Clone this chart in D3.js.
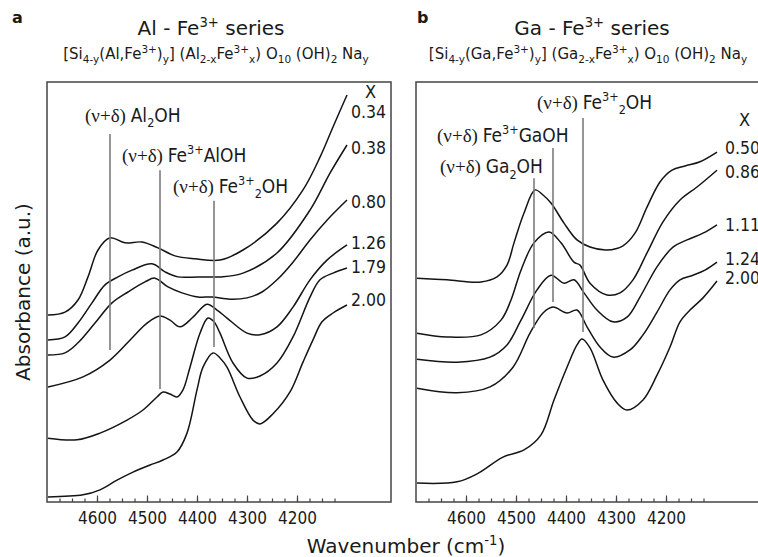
<!doctype html>
<html lang="en">
<head>
<meta charset="utf-8">
<title>Al - Fe3+ and Ga - Fe3+ series</title>
<script src="https://cdnjs.cloudflare.com/ajax/libs/d3/7.8.5/d3.min.js"></script>
<style>
  body { margin: 0; background: #fff; }
  text { font-family: "DejaVu Sans", sans-serif; fill: #1a1a1a; }
  .narrow { font-family: "DejaVu Sans Condensed", "DejaVu Sans", sans-serif; }
  .curve { fill: none; stroke: #141414; stroke-width: 1.5; }
  .band { stroke: #7c7c7c; stroke-width: 1.6; }
  .frame { fill: none; stroke: #444; stroke-width: 1.5; }
  .tick line { stroke: #444; stroke-width: 1.2; }
</style>
</head>
<body>
<script>
// ---- data: [wavenumber cm-1, absorbance a.u.] ----
// a) Al - Fe3+ series
var alX034 = [[4698,44.5],[4664,45.2],[4638,48.1],[4618,53.6],[4598,60.0],[4574,62.9],[4544,61.7],[4510,61.9],[4478,60.5],[4444,58.6],[4404,57.9],[4354,57.6],[4308,60.0],[4240,66.4],[4188,74.3],[4154,82.1],[4128,89.3],[4100,96.9]];
var alX038 = [[4698,38.6],[4664,39.3],[4638,42.6],[4610,47.4],[4584,51.7],[4558,53.6],[4530,55.2],[4490,56.7],[4464,54.8],[4438,53.6],[4398,53.6],[4354,53.6],[4308,54.5],[4240,59.3],[4174,69.5],[4134,78.3],[4100,85.0]];
var alX080 = [[4698,35.0],[4664,35.5],[4638,37.9],[4604,42.6],[4570,47.4],[4538,50.0],[4504,52.4],[4484,53.3],[4458,51.2],[4430,49.8],[4398,48.8],[4370,48.8],[4334,48.3],[4300,48.6],[4270,50.0],[4240,52.9],[4208,57.1],[4174,62.4],[4140,67.1],[4100,71.9]];
var alX126 = [[4698,27.4],[4628,29.8],[4574,33.8],[4528,39.3],[4500,42.6],[4474,44.3],[4454,43.3],[4434,41.7],[4408,44.0],[4380,47.1],[4360,45.7],[4340,43.8],[4300,40.2],[4274,39.8],[4240,41.7],[4208,46.4],[4174,52.9],[4140,57.6],[4100,61.2]];
var alX179 = [[4698,15.2],[4640,14.8],[4594,16.4],[4540,19.5],[4508,21.9],[4480,25.0],[4468,26.2],[4454,25.7],[4440,25.0],[4428,26.7],[4414,32.1],[4394,40.2],[4378,43.8],[4366,42.9],[4354,40.2],[4328,33.1],[4300,29.5],[4274,30.0],[4240,33.1],[4208,39.3],[4174,48.8],[4154,52.9],[4128,54.5],[4100,55.7]];
var alX200 = [[4698,1.2],[4628,1.7],[4594,2.9],[4560,5.2],[4528,7.1],[4494,8.8],[4468,10.0],[4440,11.9],[4420,16.4],[4400,26.7],[4388,32.1],[4368,35.5],[4354,34.3],[4340,32.1],[4314,25.0],[4288,19.5],[4274,18.6],[4248,21.0],[4214,26.2],[4188,33.3],[4168,38.6],[4150,42.9],[4128,45.0],[4100,46.9]];
var alLabels = ["0.34", "0.38", "0.80", "1.26", "1.79", "2.00"];
var alBands = [4574, 4474, 4366];
var alBandTop = [87.6, 79.0, 71.7];
var alBandBottom = [36.2, 26.9, 36.9];

// b) Ga - Fe3+ series
var gaX050 = [[4698,53.3],[4638,52.9],[4570,52.4],[4538,53.6],[4518,56.4],[4504,61.7],[4484,68.8],[4462,74.3],[4446,73.1],[4430,71.2],[4404,66.4],[4378,62.4],[4352,60.7],[4318,60.0],[4286,61.0],[4262,64.0],[4238,70.2],[4212,76.2],[4188,79.0],[4162,80.0],[4132,81.0],[4098,83.3]];
var gaX086 = [[4698,40.2],[4638,39.3],[4570,39.8],[4530,43.3],[4510,48.1],[4490,55.2],[4464,61.7],[4434,64.3],[4410,61.7],[4384,57.1],[4372,56.4],[4352,52.1],[4318,49.3],[4292,49.8],[4266,52.9],[4238,59.3],[4206,66.7],[4172,71.9],[4138,75.0],[4098,79.0]];
var gaX111 = [[4698,34.0],[4618,33.3],[4552,34.5],[4518,37.4],[4490,43.3],[4458,50.5],[4430,54.0],[4404,52.1],[4384,52.9],[4364,49.8],[4338,45.7],[4306,42.9],[4278,44.0],[4252,48.8],[4218,56.0],[4186,60.7],[4158,62.4],[4126,64.0],[4098,66.0]];
var gaX124 = [[4698,27.1],[4618,26.0],[4552,27.4],[4506,32.1],[4472,40.2],[4446,45.0],[4426,46.4],[4398,45.0],[4378,45.7],[4358,41.7],[4332,36.9],[4306,34.5],[4272,36.2],[4246,39.8],[4218,45.2],[4192,50.5],[4172,52.9],[4146,54.0],[4122,55.2],[4098,57.1]];
var gaX200 = [[4698,4.5],[4618,4.8],[4578,6.7],[4526,10.7],[4484,12.4],[4450,16.0],[4424,24.3],[4398,32.1],[4378,37.4],[4368,38.8],[4352,36.7],[4326,29.0],[4298,23.6],[4278,21.9],[4246,24.3],[4218,30.2],[4192,36.9],[4172,42.9],[4152,45.7],[4126,48.6],[4098,52.6]];
var gaLabels = ["0.50", "0.86", "1.11", "1.24", "2.00"];
var gaBands = [4366, 4426, 4464];
var gaBandTop = [91.4, 84.3, 77.1];
var gaBandBottom = [40.5, 47.6, 41.4];

// axis ticks
var majorTicks = [4600, 4500, 4400, 4300, 4200];
var minorTicks = [4675,4650,4625,4600,4575,4550,4525,4500,4475,4450,4425,4400,4375,4350,4325,4300,4275,4250,4225,4200,4175,4150,4125];

var width = 758, height = 557;

var svg = d3.select("body").append("svg")
    .attr("width", width)
    .attr("height", height);

var y = d3.scaleLinear().domain([0, 100]).range([502, 82]);

// writes text made of plain / sub / sup / serif pieces
function rich(sel, parts, size, small) {
  var shift = 0;
  small = small || 0.66;
  parts.forEach(function (p) {
    var mode = p[1] || "";
    var target = mode == "sub" ? size * 0.28 : mode == "sup" ? -size * 0.42 : 0;
    var t = sel.append("tspan").text(p[0]).attr("dy", target - shift);
    if (mode == "sub" || mode == "sup") t.style("font-size", (size * small) + "px");
    if (mode == "serif") t.style("font-family", "'Liberation Serif', 'DejaVu Serif', serif");
    shift = target;
  });
  return sel;
}

function drawPanel(p) {
  var x = d3.scaleLinear().domain([4700, 4012]).range(p.range);
  var g = svg.append("g");

  g.append("rect").attr("class", "frame")
    .attr("x", p.range[0]).attr("y", y(100))
    .attr("width", p.range[1] - p.range[0]).attr("height", y(0) - y(100));

  // ticks point inwards
  g.append("g").attr("transform", "translate(0," + y(0) + ")")
    .call(d3.axisBottom(x).tickValues(minorTicks).tickSize(-3.5).tickFormat(""))
    .call(function (a) { a.select(".domain").remove(); });
  g.append("g").attr("transform", "translate(0," + y(0) + ")")
    .call(d3.axisBottom(x).tickValues(majorTicks).tickSize(-6.5).tickPadding(10).tickFormat(d3.format("d")))
    .call(function (a) {
      a.select(".domain").remove();
      a.selectAll("text").attr("class", "narrow").style("font-size", "17px").attr("fill", "#1a1a1a");
    });

  var line = d3.line()
    .x(function (d) { return x(d[0]); })
    .y(function (d) { return y(d[1]); })
    .curve(d3.curveCatmullRom.alpha(0.5));

  g.selectAll("path.curve").data(p.series).enter().append("path")
    .attr("class", "curve")
    .attr("d", line);

  // band markers
  p.bands.forEach(function (b, i) {
    g.append("line").attr("class", "band")
      .attr("x1", x(b)).attr("x2", x(b))
      .attr("y1", y(p.bandTop[i])).attr("y2", y(p.bandBottom[i]));
    var t = g.append("text").attr("class", "narrow")
      .attr("x", x(b) + p.bandText[i][0])
      .attr("y", y(p.bandTop[i]) + p.bandText[i][1])
      .style("font-size", "19px");
    rich(t, p.bandParts[i], 19);
  });

  // series labels
  g.append("text").attr("class", "narrow").attr("x", p.labelX + 14).attr("y", p.headY)
    .style("font-size", "18px").text("X");
  p.series.forEach(function (s, i) {
    var last = s[s.length - 1];
    g.append("text").attr("class", "narrow")
      .attr("x", p.labelX)
      .attr("y", y(last[1]) + p.labelDy[i])
      .style("font-size", "17.5px")
      .text(p.labels[i]);
  });

  g.append("text").attr("x", p.letterX).attr("y", 23)
    .style("font-size", "16px").style("font-weight", "bold").text(p.letter);
  rich(g.append("text").attr("x", p.titleX).attr("y", 35)
    .attr("text-anchor", "middle").style("font-size", "20px"), p.title, 20);
  rich(g.append("text").attr("x", p.subX).attr("y", 59)
    .attr("text-anchor", "middle").style("font-size", "15px"), p.subtitle, 15, 0.7);
}

var nd = [["(ν+δ) ", "serif"]];

drawPanel({
  range: [47, 391],
  series: [alX034, alX038, alX080, alX126, alX179, alX200],
  labels: alLabels,
  labelX: 351, headY: 98,
  labelDy: [23, 9, 8, 4, 5, 1],
  bands: alBands, bandTop: alBandTop, bandBottom: alBandBottom,
  bandText: [[-25, -12], [-38, -8], [-41, -8]],
  bandParts: [
    nd.concat([["Al"], ["2", "sub"], ["OH"]]),
    nd.concat([["Fe"], ["3+", "sup"], ["AlOH"]]),
    nd.concat([["Fe"], ["3+", "sup"], ["2", "sub"], ["OH"]])
  ],
  letter: "a", letterX: 12, titleX: 211, subX: 216,
  title: [["Al - Fe"], ["3+", "sup"], [" series"]],
  subtitle: [["[Si"], ["4-y", "sub"], ["(Al,Fe"], ["3+", "sup"], [")"], ["y", "sub"], ["] (Al"], ["2-x", "sub"],
             ["Fe"], ["3+", "sup"], ["x", "sub"], [") O"], ["10", "sub"], [" (OH)"], ["2", "sub"], [" Na"], ["y", "sub"]]
});

drawPanel({
  range: [416, 760],
  series: [gaX050, gaX086, gaX111, gaX124, gaX200],
  labels: gaLabels,
  labelX: 725, headY: 126,
  labelDy: [2, 8, 6, 3, 3],
  bands: gaBands, bandTop: gaBandTop, bandBottom: gaBandBottom,
  bandText: [[-46, -9], [-116, -6], [-94, -5]],
  bandParts: [
    nd.concat([["Fe"], ["3+", "sup"], ["2", "sub"], ["OH"]]),
    nd.concat([["Fe"], ["3+", "sup"], ["GaOH"]]),
    nd.concat([["Ga"], ["2", "sub"], ["OH"]])
  ],
  letter: "b", letterX: 417, titleX: 592, subX: 588,
  title: [["Ga - Fe"], ["3+", "sup"], [" series"]],
  subtitle: [["[Si"], ["4-y", "sub"], ["(Ga,Fe"], ["3+", "sup"], [")"], ["y", "sub"], ["] (Ga"], ["2-x", "sub"],
             ["Fe"], ["3+", "sup"], ["x", "sub"], [") O"], ["10", "sub"], [" (OH)"], ["2", "sub"], [" Na"], ["y", "sub"]]
});

// shared axis titles
rich(svg.append("text").attr("x", 406).attr("y", 553)
  .attr("text-anchor", "middle").style("font-size", "20px"),
  [["Wavenumber (cm"], ["-1", "sup"], [")"]], 20);

svg.append("text")
  .attr("transform", "translate(30,292) rotate(-90)")
  .attr("text-anchor", "middle")
  .style("font-size", "20px")
  .text("Absorbance (a.u.)");
</script>
</body>
</html>
